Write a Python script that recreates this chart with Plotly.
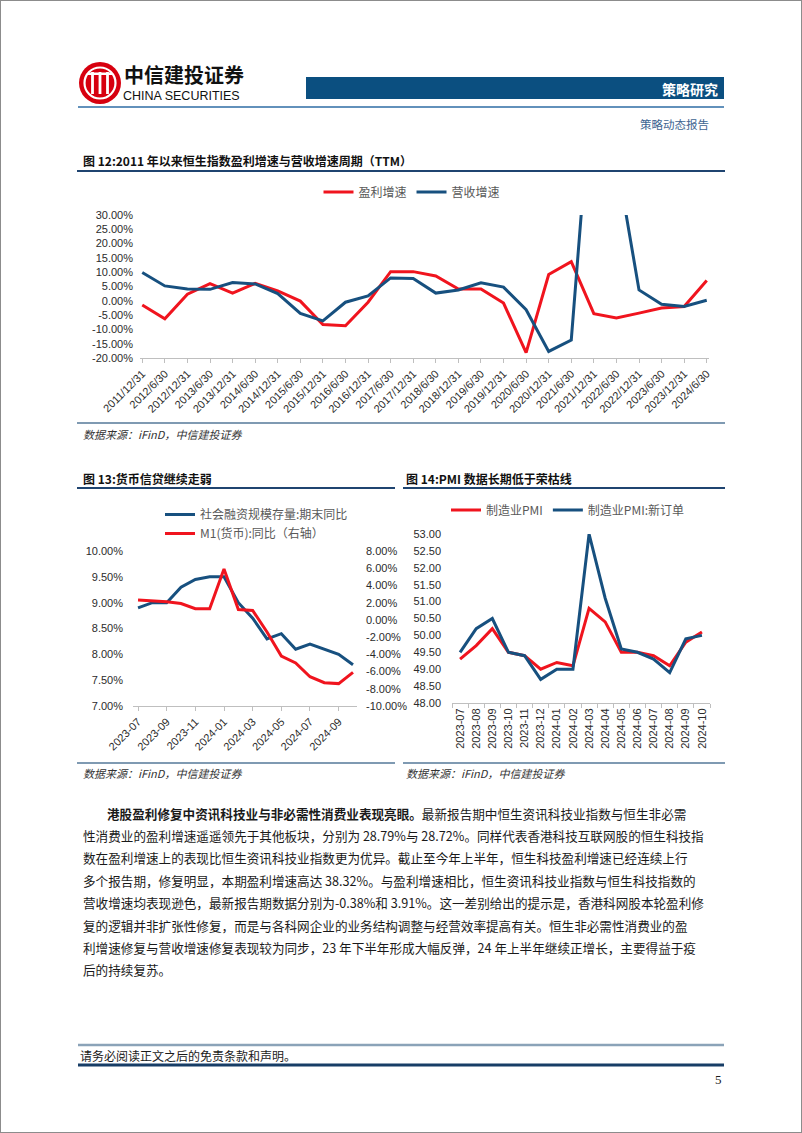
import plotly.graph_objects as go

W, H = 802, 1133

def fx(px):
    return px / W

def fy(py):
    return 1 - py / H

# ---------------- data ----------------
periods_12 = ["2011/12/31", "2012/6/30", "2012/12/31", "2013/6/30", "2013/12/31",
              "2014/6/30", "2014/12/31", "2015/6/30", "2015/12/31", "2016/6/30",
              "2016/12/31", "2017/6/30", "2017/12/31", "2018/6/30", "2018/12/31",
              "2019/6/30", "2019/12/31", "2020/6/30", "2020/12/31", "2021/6/30",
              "2021/12/31", "2022/6/30", "2022/12/31", "2023/6/30", "2023/12/31",
              "2024/6/30"]
profit_growth = [-1.5, -6.3, 2.3, 6.0, 2.7, 6.1, 3.5, -0.1, -8.3, -8.7,
                 -0.5, 10.2, 10.2, 8.7, 4.1, 4.1, -0.8, -18.1, 9.2, 13.7,
                 -4.5, -6.0, -4.3, -2.5, -2.0, 7.1]
revenue_growth = [9.9, 5.2, 4.1, 4.0, 6.4, 5.9, 2.5, -4.4, -7.0, -0.5,
                  1.7, 8.0, 7.8, 2.7, 3.8, 6.3, 4.8, -3.1, -17.7, -13.7,
                  86.0, 50.0, 3.8, -1.2, -2.0, 0.2]
y12_ticks = [-20, -15, -10, -5, 0, 5, 10, 15, 20, 25, 30]

months = ["2023-07", "2023-08", "2023-09", "2023-10", "2023-11", "2023-12",
          "2024-01", "2024-02", "2024-03", "2024-04", "2024-05", "2024-06",
          "2024-07", "2024-08", "2024-09", "2024-10"]
tsf_yoy = [8.9, 9.0, 9.0, 9.3, 9.45, 9.5, 9.5, 9.0, 8.7, 8.3, 8.4, 8.1, 8.2, 8.1, 8.0, 7.8]
m1_yoy = [2.3, 2.2, 2.1, 1.9, 1.3, 1.3, 5.9, 1.2, 1.1, -1.4, -4.2, -5.0, -6.6, -7.3, -7.4, -6.1]
y13_left_ticks = [7.0, 7.5, 8.0, 8.5, 9.0, 9.5, 10.0]
y13_right_ticks = [-10, -8, -6, -4, -2, 0, 2, 4, 6, 8]
x13_labels = ["2023-07", "2023-09", "2023-11", "2024-01", "2024-03", "2024-05", "2024-07", "2024-09"]

pmi = [49.3, 49.7, 50.2, 49.5, 49.4, 49.0, 49.2, 49.1, 50.8, 50.4, 49.5, 49.5, 49.4, 49.1, 49.8, 50.1]
pmi_new_orders = [49.5, 50.2, 50.5, 49.5, 49.4, 48.7, 49.0, 49.0, 53.0, 51.1, 49.6, 49.5, 49.3, 48.9, 49.9, 50.0]
y14_ticks = [48.0, 48.5, 49.0, 49.5, 50.0, 50.5, 51.0, 51.5, 52.0, 52.5, 53.0]

paragraph = [
    "<b>港股盈利修复中资讯科技业与非必需性消费业表现亮眼。</b>最新报告期中恒生资讯科技业指数与恒生非必需",
    "性消费业的盈利增速遥遥领先于其他板块，分别为 28.79%与 28.72%。同样代表香港科技互联网股的恒生科技指",
    "数在盈利增速上的表现比恒生资讯科技业指数更为优异。截止至今年上半年，恒生科技盈利增速已经连续上行",
    "多个报告期，修复明显，本期盈利增速高达 38.32%。与盈利增速相比，恒生资讯科技业指数与恒生科技指数的",
    "营收增速均表现逊色，最新报告期数据分别为-0.38%和 3.91%。这一差别给出的提示是，香港科网股本轮盈利修",
    "复的逻辑并非扩张性修复，而是与各科网企业的业务结构调整与经营效率提高有关。恒生非必需性消费业的盈",
    "利增速修复与营收增速修复表现较为同步，23 年下半年形成大幅反弹，24 年上半年继续正增长，主要得益于疫",
    "后的持续复苏。",
]

# ---------------- styles ----------------
RED = "#F0141E"
BLUE = "#17507F"
CJK = "Noto Sans CJK SC"
NUM = "Liberation Sans, Arial"
TICKFONT = dict(family=NUM, size=11, color="#2B2B2B")
AXIS_LINE = "#BFBFBF"

fig = go.Figure()

# chart 12
fig.add_trace(go.Scatter(x=periods_12, y=profit_growth, name="盈利增速", mode="lines",
                         line=dict(color=RED, width=3), xaxis="x", yaxis="y", legend="legend"))
fig.add_trace(go.Scatter(x=periods_12, y=revenue_growth, name="营收增速", mode="lines",
                         line=dict(color=BLUE, width=3), xaxis="x", yaxis="y", legend="legend"))
# chart 13
fig.add_trace(go.Scatter(x=months, y=tsf_yoy, name="社会融资规模存量:期末同比", mode="lines",
                         line=dict(color=BLUE, width=3), xaxis="x2", yaxis="y2", legend="legend2"))
fig.add_trace(go.Scatter(x=months, y=m1_yoy, name="M1(货币):同比（右轴）", mode="lines",
                         line=dict(color=RED, width=3), xaxis="x2", yaxis="y3", legend="legend2"))
# chart 14
fig.add_trace(go.Scatter(x=months, y=pmi, name="制造业PMI", mode="lines",
                         line=dict(color=RED, width=3), xaxis="x4", yaxis="y4", legend="legend3"))
fig.add_trace(go.Scatter(x=months, y=pmi_new_orders, name="制造业PMI:新订单", mode="lines",
                         line=dict(color=BLUE, width=3), xaxis="x4", yaxis="y4", legend="legend3"))

legend_font = dict(family=CJK, size=12, color="#595959")

fig.update_layout(
    width=W, height=H,
    margin=dict(l=0, r=0, t=0, b=0, autoexpand=False),
    paper_bgcolor="white", plot_bgcolor="rgba(0,0,0,0)",
    showlegend=True,
    # ----- chart 12 axes -----
    xaxis=dict(domain=[fx(140), fx(709)], anchor="y", type="category", automargin=False,
               range=[-0.1, 25.1], tickmode="array", tickvals=periods_12, ticktext=periods_12,
               tickangle=-45, tickfont=TICKFONT, showgrid=False, zeroline=False,
               showline=True, linecolor=AXIS_LINE, linewidth=1,
               ticks="outside", ticklen=4, tickcolor=AXIS_LINE, fixedrange=True),
    yaxis=dict(domain=[fy(358), fy(215)], anchor="x", range=[-20, 30], automargin=False,
               tickmode="array", tickvals=y12_ticks, ticktext=[f"{v:.2f}%" for v in y12_ticks],
               tickfont=TICKFONT, showgrid=False, zeroline=False, showline=False,
               ticklabelstandoff=6, fixedrange=True),
    # ----- chart 13 axes -----
    xaxis2=dict(domain=[fx(133), fx(357)], anchor="y2", type="category", automargin=False,
                range=[-0.35, 15.28], tickmode="array", tickvals=x13_labels, ticktext=x13_labels,
                tickangle=-45, tickfont=TICKFONT, showgrid=False, zeroline=False,
                showline=True, linecolor=AXIS_LINE, linewidth=1,
                ticks="outside", ticklen=4, tickcolor=AXIS_LINE, fixedrange=True),
    yaxis2=dict(domain=[fy(706), fy(551)], anchor="x2", range=[7, 10], automargin=False,
                tickmode="array", tickvals=y13_left_ticks,
                ticktext=[f"{v:.2f}%" for v in y13_left_ticks],
                tickfont=TICKFONT, showgrid=False, zeroline=False, showline=False,
                ticklabelstandoff=9, fixedrange=True),
    yaxis3=dict(overlaying="y2", side="right", anchor="free", position=fx(359), automargin=False,
                range=[-10, 8], tickmode="array", tickvals=y13_right_ticks,
                ticktext=[f"{v:.2f}%" for v in y13_right_ticks],
                tickfont=TICKFONT, showgrid=False, zeroline=False, showline=False,
                ticklabelstandoff=6, fixedrange=True),
    # ----- chart 14 axes -----
    xaxis4=dict(domain=[fx(452), fx(710)], anchor="y4", type="category", automargin=False,
                range=[-0.5, 15.5], tickson="boundaries", tickangle=-90,
                tickfont=TICKFONT, showgrid=False, zeroline=False,
                showline=True, linecolor=AXIS_LINE, linewidth=1,
                ticks="outside", ticklen=4, tickcolor=AXIS_LINE, fixedrange=True),
    yaxis4=dict(domain=[fy(703), fy(534)], anchor="x4", range=[48, 53], automargin=False,
                tickmode="array", tickvals=y14_ticks, ticktext=[f"{v:.2f}" for v in y14_ticks],
                tickfont=TICKFONT, showgrid=False, zeroline=False, showline=False,
                ticklabelstandoff=10, fixedrange=True),
    legend=dict(orientation="h", x=fx(412), y=fy(192), xanchor="center", yanchor="middle",
                font=legend_font, bgcolor="rgba(0,0,0,0)", itemwidth=30),
    legend2=dict(orientation="v", x=fx(160), y=fy(500), xanchor="left", yanchor="top",
                 font=legend_font, bgcolor="rgba(0,0,0,0)", tracegroupgap=0, itemwidth=30),
    legend3=dict(orientation="h", x=fx(568), y=fy(510), xanchor="center", yanchor="middle",
                 font=legend_font, bgcolor="rgba(0,0,0,0)", itemwidth=30),
)

shapes = []
annotations = []

def hline(x0, x1, y, color, width):
    shapes.append(dict(type="line", xref="paper", yref="paper",
                       x0=fx(x0), x1=fx(x1), y0=fy(y), y1=fy(y),
                       line=dict(color=color, width=width)))

def text(x, y, s, size, color="#000000", family=CJK, xanchor="left", bold=False, italic=False):
    if bold:
        s = f"<b>{s}</b>"
    if italic:
        s = f"<i>{s}</i>"
    annotations.append(dict(x=fx(x), y=fy(y), xref="paper", yref="paper", text=s,
                            showarrow=False, xanchor=xanchor, yanchor="middle", borderpad=0,
                            font=dict(family=family, size=size, color=color)))

# page border
shapes.append(dict(type="rect", xref="paper", yref="paper", x0=0, x1=1, y0=0, y1=1,
                   line=dict(color="#8C8C8C", width=2), fillcolor="rgba(0,0,0,0)"))

# ---- header logo ----
shapes.append(dict(type="circle", xref="paper", yref="paper",
                   x0=fx(79), x1=fx(121), y0=fy(104), y1=fy(62),
                   fillcolor="#D7000F", line=dict(width=0)))
shapes.append(dict(type="circle", xref="paper", yref="paper",
                   x0=fx(84.5), x1=fx(115.5), y0=fy(98.5), y1=fy(67.5),
                   fillcolor="rgba(0,0,0,0)", line=dict(color="white", width=2.2)))
for bx in (92.5, 100, 107.5):
    shapes.append(dict(type="rect", xref="paper", yref="paper",
                       x0=fx(bx - 1.4), x1=fx(bx + 1.4), y0=fy(94), y1=fy(72),
                       fillcolor="white", line=dict(width=0)))
shapes.append(dict(type="rect", xref="paper", yref="paper",
                   x0=fx(88), x1=fx(112), y0=fy(75), y1=fy(72.5),
                   fillcolor="white", line=dict(width=0)))
text(123, 74, "中信建投证券", 20, "#111111", bold=True)
text(122, 96, "CHINA SECURITIES", 12.5, "#111111", family="Liberation Sans, Arial")

# blue band
shapes.append(dict(type="rect", xref="paper", yref="paper",
                   x0=fx(306), x1=fx(724), y0=fy(99), y1=fy(77),
                   fillcolor="#0B4F80", line=dict(width=0)))
text(719, 89, "策略研究", 14, "white", xanchor="right", bold=True)
hline(78, 724, 107, "#2E6DA4", 1.5)
text(710, 124, "策略动态报告", 11.5, "#3D6491", xanchor="right")

# ---- figure titles & separators ----
text(82, 160, "图 12:2011 年以来恒生指数盈利增速与营收增速周期（TTM）", 12, "#111111", bold=True)
hline(77, 725, 171, "#1F4470", 2)
hline(77, 725, 423, "#7F9AB2", 2)
text(82, 434, "数据来源：iFinD，中信建投证券", 11, "#333333", italic=True)

text(82, 478, "图 13:货币信贷继续走弱", 12, "#111111", bold=True)
hline(77, 395, 488, "#1F4470", 2)
text(405, 478, "图 14:PMI 数据长期低于荣枯线", 12, "#111111", bold=True)
hline(403, 725, 488, "#1F4470", 2)
hline(77, 395, 763, "#7F9AB2", 2)
hline(403, 725, 763, "#7F9AB2", 2)
text(82, 773, "数据来源：iFinD，中信建投证券", 11, "#333333", italic=True)
text(405, 773, "数据来源：iFinD，中信建投证券", 11, "#333333", italic=True)

# ---- body paragraph ----
for i, line in enumerate(paragraph):
    x0 = 106 if i == 0 else 82
    text(x0, 813 + 22.4 * i, line, 12.6, "#1A1A1A")

# ---- footer ----
hline(78, 724, 1045, "#8BA3B8", 2.5)
text(79, 1055, "请务必阅读正文之后的免责条款和声明。", 12, "#1A1A1A")
hline(78, 724, 1065, "#173D66", 3)
text(723, 1079, "5", 13, "#1A1A1A", family="Liberation Serif, Times New Roman", xanchor="right")

fig.update_layout(shapes=shapes, annotations=annotations)

fig.write_html("out.html", config={"displayModeBar": False},
               post_script="document.body.style.margin='0';")
